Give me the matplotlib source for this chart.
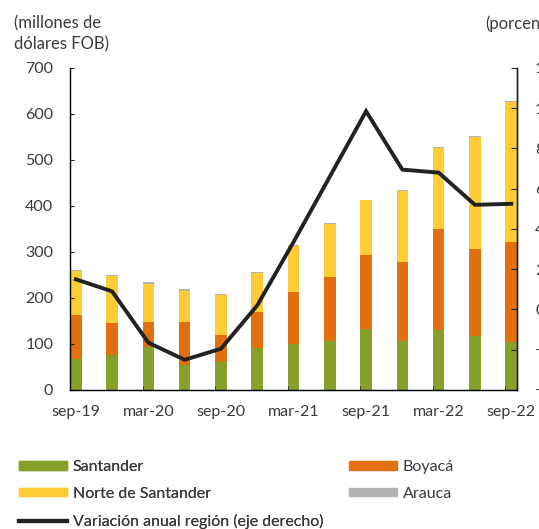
import numpy as np
import matplotlib.pyplot as plt
from matplotlib.patches import Patch
from matplotlib.lines import Line2D

# quarterly exports by department (millones de dolares FOB)
periods = ["sep-19", "dic-19", "mar-20", "jun-20", "sep-20", "dic-20", "mar-21",
           "jun-21", "sep-21", "dic-21", "mar-22", "jun-22", "sep-22"]
santander = [67, 75, 93, 55, 60, 91, 101, 106, 132, 106, 130, 117, 104]
boyaca = [95, 70, 55, 93, 59, 79, 113, 139, 161, 172, 220, 189, 218]
norte_santander = [96, 102, 83, 68, 87, 84, 100, 115, 119, 155, 176, 245, 305]
arauca = [3, 3, 3, 3, 3, 3, 2, 2, 2, 2, 2, 2, 2]
# annual change of the region (right axis, percent)
variacion = [15, 9, -16.5, -25, -19.5, 2, 33.5, 66, 98.5, 69.5, 68, 52, 52.5]

GREEN = "#86A029"
ORANGE = "#E3700E"
YELLOW = "#FECC35"
GRAY = "#B3B3B3"
TEXT = "#3a3a3a"

plt.rcParams['font.family'] = ['Lato', 'DejaVu Sans']
plt.rcParams['font.size'] = 11.5
plt.rcParams['text.color'] = TEXT


def main():
    fig = plt.figure(figsize=(5.39, 5.29), dpi=100)
    ax = fig.add_axes([0.1299, 0.2628, 0.8293, 0.6087])

    x = np.arange(len(periods))
    w = 0.32
    s = np.array(santander)
    b = np.array(boyaca)
    n = np.array(norte_santander)
    a = np.array(arauca)
    ax.bar(x, s, w, color=GREEN)
    ax.bar(x, b, w, bottom=s, color=ORANGE)
    ax.bar(x, n, w, bottom=s + b, color=YELLOW)
    ax.bar(x, a, w, bottom=s + b + n, color=GRAY)

    ax.set_xlim(-w / 2, len(periods) - 1 + w / 2)
    ax.set_ylim(0, 700)
    ax.set_yticks(range(0, 701, 100))

    # labels on every second quarter, small ticks at the bar edges
    ax.set_xticks(x[::2])
    ax.set_xticklabels(periods[::2])
    ax.set_xticks(x[::2] - w / 2, minor=True)
    ax.tick_params(axis='x', which='major', length=0, pad=11, colors=TEXT)
    ax.tick_params(axis='x', which='minor', direction='in', length=3, color="#222")
    ax.tick_params(axis='y', direction='in', length=3, pad=12, labelcolor=TEXT, color="#222")

    for side in ["left", "bottom", "right"]:
        ax.spines[side].set_color("#222")
        ax.spines[side].set_linewidth(1.0)
    ax.spines["top"].set_visible(False)

    ax2 = ax.twinx()
    ax2.plot(x, variacion, color="#222222", lw=2.8, solid_joinstyle='miter')
    ax2.set_ylim(-40, 120)
    ax2.set_yticks(range(-40, 121, 20))
    ax2.tick_params(axis='y', direction='in', length=4, pad=13, labelcolor=TEXT, color="#222")
    ax2.spines["top"].set_visible(False)
    ax2.spines["right"].set_color("#222")
    ax2.spines["right"].set_linewidth(1.0)
    for lab in ax2.get_yticklabels():
        lab.set_horizontalalignment('left')

    fig.text(0.026, 1 - 23.5 / 529, "(millones de", va='center', ha='left', fontsize=12)
    fig.text(0.026, 1 - 44 / 529, "dólares FOB)", va='center', ha='left', fontsize=12)
    fig.text(485 / 539, 1 - 23.5 / 529, "(porcentaje)", va='center', ha='left', fontsize=12)

    h1 = [Patch(color=GREEN), Patch(color=YELLOW),
          Line2D([], [], color="#222222", lw=3)]
    l1 = ["Santander", "Norte de Santander", "Variación anual región (eje derecho)"]
    h2 = [Patch(color=ORANGE), Patch(color=GRAY)]
    l2 = ["Boyacá", "Arauca"]
    kw = dict(loc='upper left', frameon=False, borderpad=0, borderaxespad=0,
              handlelength=3.0, handleheight=0.45, handletextpad=0.35,
              labelspacing=0.8, fontsize=11.5)
    leg1 = fig.legend(h1, l1, bbox_to_anchor=(19 / 539, 1 - 460 / 529), **kw)
    fig.legend(h2, l2, bbox_to_anchor=(349 / 539, 1 - 460 / 529), **kw)
    fig.add_artist(leg1)

    fig.savefig("out.png", dpi=100)


if __name__ == '__main__':
    main()
